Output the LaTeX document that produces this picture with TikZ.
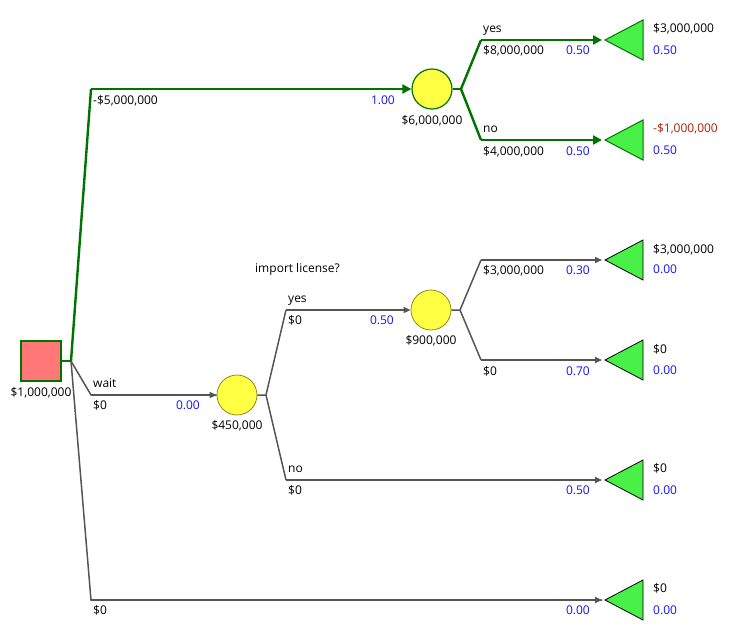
\documentclass[tikz,border=0pt]{standalone}
\usepackage{fontspec}
\setmainfont{Open Sans}
\usetikzlibrary{arrows.meta}

\definecolor{pathgreen}{RGB}{0,115,0}
\definecolor{pathgray}{RGB}{85,85,85}
\definecolor{probblue}{RGB}{20,20,235}
\definecolor{lossred}{RGB}{180,30,10}
\definecolor{decisionfill}{RGB}{255,119,119}
\definecolor{chancefill}{RGB}{255,255,68}
\definecolor{chanceedge}{RGB}{140,140,20}
\definecolor{termfill}{RGB}{72,240,72}

\tikzset{
  txt/.style={font=\fontsize{12}{14}\selectfont, inner sep=0pt, text height=9pt, text depth=2.5pt},
  lbl/.style={txt, anchor=west, text=black},
  prob/.style={txt, anchor=east, text=probblue},
  tval/.style={txt, anchor=west, text=black},
  tprob/.style={txt, anchor=west, text=probblue},
  under/.style={txt, anchor=center, text=black},
  decision/.style={rectangle, minimum size=40pt, inner sep=0pt, fill=decisionfill, draw=pathgreen, line width=1.2pt},
  chanceon/.style={circle, minimum size=40pt, inner sep=0pt, fill=chancefill, draw=pathgreen, line width=1.2pt},
  chanceoff/.style={circle, minimum size=40pt, inner sep=0pt, fill=chancefill, draw=chanceedge, line width=0.8pt},
  onpath/.style={draw=pathgreen, line width=2.4pt, line join=miter},
  offpath/.style={draw=pathgray, line width=1.5pt, line join=miter},
  onarrow/.style={onpath, -{Triangle[length=9pt,width=9pt]}},
  offarrow/.style={offpath, -{Triangle[length=7pt,width=6pt]}},
  termon/.style={fill=termfill, draw=pathgreen, line width=1pt, line join=miter},
  termoff/.style={fill=termfill, draw=black, line width=0.8pt, line join=miter}
}

\begin{document}
\begin{tikzpicture}[x=1pt,y=-1pt]
  \useasboundingbox (0,0) rectangle (729,641);

  % nodes
  \node[decision] (root) at (41,361) {};
  \node[chanceon] (c1) at (432,89) {};
  \node[chanceoff] (c2) at (237,395) {};
  \node[chanceoff] (c3) at (431,310) {};

  % junctions and bends
  \coordinate (j0) at (71,361);
  \coordinate (b1) at (91,89);
  \coordinate (b2) at (91,395);
  \coordinate (b3) at (91,600);
  \coordinate (j1) at (461,89);
  \coordinate (b11) at (481,40);
  \coordinate (b12) at (481,140);
  \coordinate (j2) at (266,395);
  \coordinate (b21) at (286,310);
  \coordinate (b22) at (286,480);
  \coordinate (j3) at (460,310);
  \coordinate (b31) at (481,260);
  \coordinate (b32) at (481,360);

  % terminal tips
  \coordinate (t1) at (605,40);
  \coordinate (t2) at (605,140);
  \coordinate (t3) at (605,260);
  \coordinate (t4) at (605,360);
  \coordinate (t5) at (605,480);
  \coordinate (t6) at (605,600);

  % terminal triangles
  \draw[termon] (t1) -- ++(38,-20) -- ++(0,40) -- cycle;
  \draw[termon] (t2) -- ++(38,-20) -- ++(0,40) -- cycle;
  \draw[termoff] (t3) -- ++(38,-20) -- ++(0,40) -- cycle;
  \draw[termoff] (t4) -- ++(38,-20) -- ++(0,40) -- cycle;
  \draw[termoff] (t5) -- ++(38,-20) -- ++(0,40) -- cycle;
  \draw[termoff] (t6) -- ++(38,-20) -- ++(0,40) -- cycle;

  % branches from the decision
  \draw[offpath] (j0) -- (b2) -- (c2.west);
  \draw[offpath] (j0) -- (b3) -- ([xshift=-3pt]t6);
  \draw[offarrow] (b2) -- (c2.west);
  \draw[offarrow] (b3) -- ([xshift=-3pt]t6);
  \draw[onpath] (root.east) -- (j0);
  \draw[onpath] (j0) -- (b1);
  \draw[onarrow] (b1) -- (c1.west);

  % branches from the first chance node
  \draw[onpath] (c1.east) -- (j1);
  \draw[onpath] (j1) -- (b11);
  \draw[onpath] (j1) -- (b12);
  \draw[onarrow] (b11) -- ([xshift=-3pt]t1);
  \draw[onarrow] (b12) -- ([xshift=-3pt]t2);

  % branches from the wait chance node
  \draw[offpath] (c2.east) -- (j2) -- (b21);
  \draw[offpath] (j2) -- (b22);
  \draw[offarrow] (b21) -- (c3.west);
  \draw[offarrow] (b22) -- ([xshift=-3pt]t5);

  % branches from the licence chance node
  \draw[offpath] (c3.east) -- (j3) -- (b31);
  \draw[offpath] (j3) -- (b32);
  \draw[offarrow] (b31) -- ([xshift=-3pt]t3);
  \draw[offarrow] (b32) -- ([xshift=-3pt]t4);

  % node values
  \node[under] (vroot) at (41,393) {\$1,000,000};
  \node[under] (vc1) at (432,121) {\$6,000,000};
  \node[under] (vc2) at (237,426) {\$450,000};
  \node[under] (vc3) at (431,341) {\$900,000};
  \node[lbl] (question) at (255,269) {import license?};

  % branch labels
  \node[lbl] (l1) at (93,101) {-\$5,000,000};
  \node[prob] (p1) at (395,101) {1.00};
  \node[lbl] (n11) at (483,29) {yes};
  \node[lbl] (l11) at (483,51) {\$8,000,000};
  \node[prob] (p11) at (590,51) {0.50};
  \node[lbl] (n12) at (483,129) {no};
  \node[lbl] (l12) at (483,152) {\$4,000,000};
  \node[prob] (p12) at (590,152) {0.50};

  \node[lbl] (n2) at (93,384) {wait};
  \node[lbl] (l2) at (93,406) {\$0};
  \node[prob] (p2) at (200,406) {0.00};
  \node[lbl] (n21) at (288,299) {yes};
  \node[lbl] (l21) at (288,321) {\$0};
  \node[prob] (p21) at (394,321) {0.50};
  \node[lbl] (n22) at (288,469) {no};
  \node[lbl] (l22) at (288,491) {\$0};
  \node[prob] (p22) at (590,491) {0.50};
  \node[lbl] (l31) at (483,271) {\$3,000,000};
  \node[prob] (p31) at (590,271) {0.30};
  \node[lbl] (l32) at (483,372) {\$0};
  \node[prob] (p32) at (590,372) {0.70};

  \node[lbl] (l3) at (93,611) {\$0};
  \node[prob] (p3) at (590,611) {0.00};

  % terminal payoffs
  \node[tval] (v1) at (653,29) {\$3,000,000};
  \node[tprob] (q1) at (653,51) {0.50};
  \node[tval, text=lossred] (v2) at (653,129) {-\$1,000,000};
  \node[tprob] (q2) at (653,151) {0.50};
  \node[tval] (v3) at (653,250) {\$3,000,000};
  \node[tprob] (q3) at (653,270) {0.00};
  \node[tval] (v4) at (653,350) {\$0};
  \node[tprob] (q4) at (653,371) {0.00};
  \node[tval] (v5) at (653,469) {\$0};
  \node[tprob] (q5) at (653,491) {0.00};
  \node[tval] (v6) at (653,589) {\$0};
  \node[tprob] (q6) at (653,611) {0.00};
\end{tikzpicture}
\end{document}
